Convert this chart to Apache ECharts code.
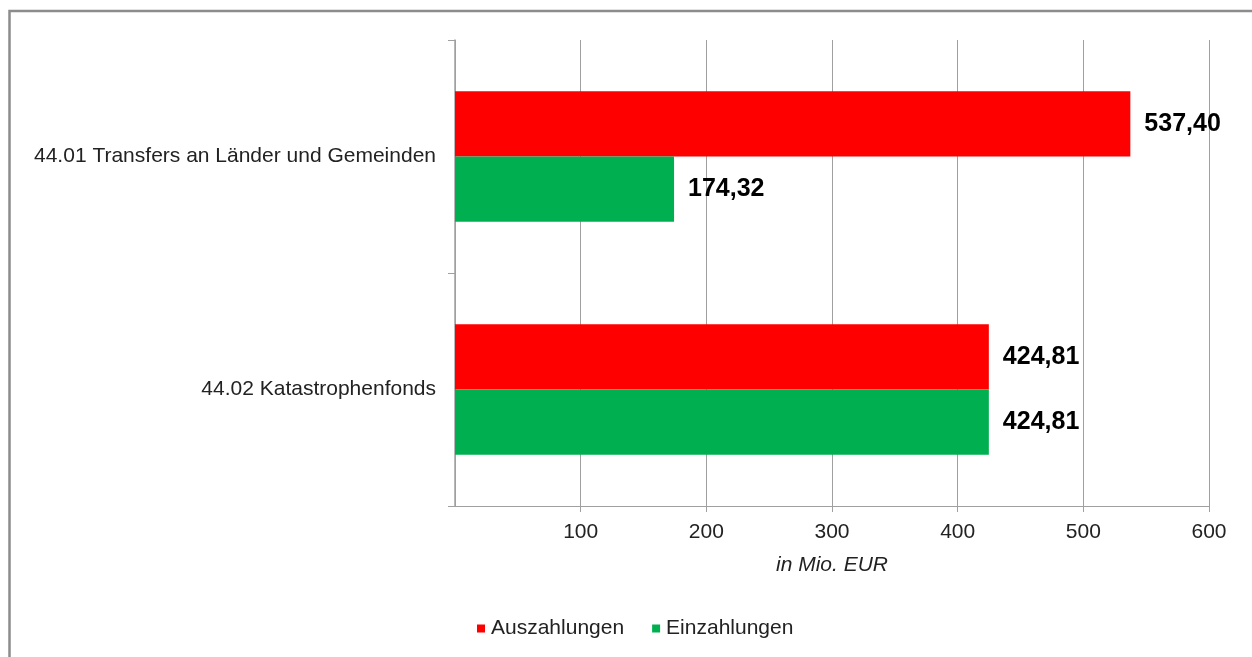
<!DOCTYPE html>
<html>
<head>
<meta charset="utf-8">
<style>
  html, body { margin: 0; padding: 0; background: #fff; }
  #chart { width: 1252px; height: 657px; }
</style>
<script src="https://cdn.jsdelivr.net/npm/echarts@6/dist/echarts.min.js"></script>
</head>
<body>
<div id="chart"></div>
<script>
// Budget items (categories) and amounts in million EUR
const categories = ['44.01 Transfers an Länder und Gemeinden', '44.02 Katastrophenfonds'];
const auszahlungen = [537.40, 424.81];
const einzahlungen = [174.32, 424.81];
const seriesNames = ['Auszahlungen', 'Einzahlungen'];
const axisTitle = 'in Mio. EUR';

const FONT = '"Liberation Sans", Arial, sans-serif';
const fmt = v => v.toFixed(2).replace('.', ',');

const chart = echarts.init(document.getElementById('chart'), null, { renderer: 'canvas' });

const valueLabel = {
  show: true,
  position: 'right',
  distance: 14,
  fontFamily: FONT,
  fontSize: 25,
  fontWeight: 'bold',
  color: '#000',
  formatter: p => fmt(p.value)
};

chart.setOption({
  backgroundColor: '#fff',
  animation: false,
  textStyle: { fontFamily: FONT },
  graphic: [{
    type: 'rect',
    shape: { x: 9.5, y: 11, width: 1400, height: 1000 },
    style: { fill: 'none', stroke: '#8c8c8c', lineWidth: 2.5 },
    silent: true,
    z: 100
  }],
  legend: {
    data: seriesNames,
    bottom: 13,
    left: 472,
    itemWidth: 8,
    itemHeight: 8,
    itemGap: 28,
    icon: 'rect',
    textStyle: { fontFamily: FONT, fontSize: 21, color: '#222', padding: [0, 0, 0, 1] }
  },
  grid: { left: 455, right: 43, top: 40, bottom: 151, containLabel: false },
  xAxis: {
    type: 'value',
    min: 0,
    max: 600,
    interval: 100,
    name: axisTitle,
    nameLocation: 'middle',
    nameGap: 49,
    nameTextStyle: { fontFamily: FONT, fontSize: 21, fontStyle: 'italic', color: '#222' },
    axisLine: { show: true, lineStyle: { color: '#a0a0a0', width: 1 } },
    axisTick: { show: true, length: 6, lineStyle: { color: '#a0a0a0' } },
    axisLabel: { showMinLabel: false, margin: 16, fontFamily: FONT, fontSize: 21, color: '#222' },
    splitLine: { show: true, lineStyle: { color: '#a0a0a0', width: 1 } }
  },
  yAxis: {
    type: 'category',
    data: categories,
    inverse: true,
    axisLine: { show: true, lineStyle: { color: '#a0a0a0', width: 1.5 } },
    axisTick: { show: true, length: 7, lineStyle: { color: '#a0a0a0' } },
    axisLabel: { margin: 19, fontFamily: FONT, fontSize: 21, color: '#222' },
    splitLine: { show: false }
  },
  series: [
    {
      name: seriesNames[0],
      type: 'bar',
      data: auszahlungen,
      itemStyle: { color: '#ff0000' },
      barGap: '0%',
      barCategoryGap: '44%',
      label: valueLabel
    },
    {
      name: seriesNames[1],
      type: 'bar',
      data: einzahlungen,
      itemStyle: { color: '#00b050' },
      barGap: '0%',
      barCategoryGap: '44%',
      label: valueLabel
    }
  ]
});
</script>
</body>
</html>
